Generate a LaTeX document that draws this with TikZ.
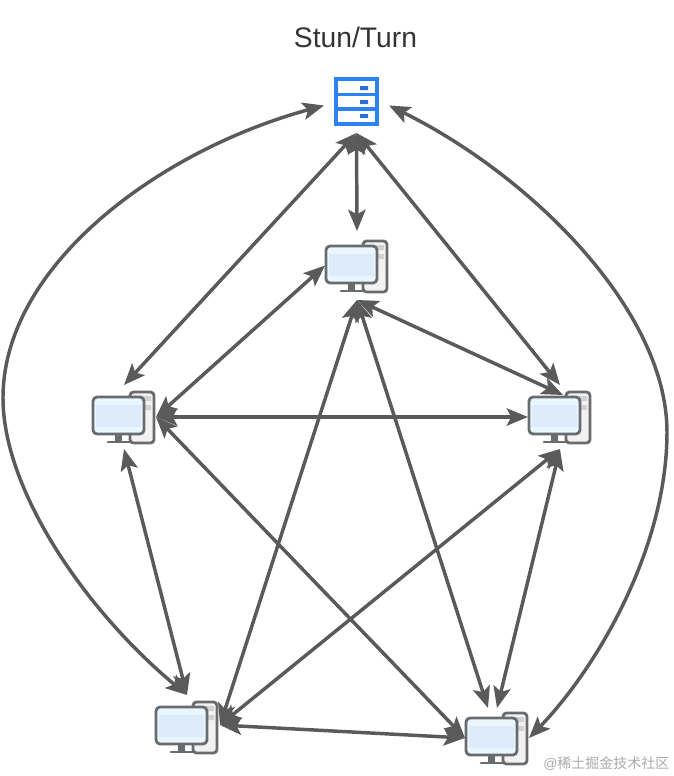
\documentclass[tikz,border=0pt]{standalone}
\usepackage{fontspec}
\setmainfont{Liberation Sans}
\newfontfamily\cjk{Noto Sans CJK SC}
\usetikzlibrary{arrows.meta}
\definecolor{ink}{HTML}{333333}
\definecolor{pfeil}{HTML}{5A5A5A}
\definecolor{rahmen}{HTML}{686C6E}
\definecolor{schirm}{HTML}{EAF6FD}
\definecolor{schirmb}{HTML}{DDEBFB}
\definecolor{turm}{HTML}{F2F2F2}
\definecolor{schlitz}{HTML}{D2D2D2}
\definecolor{blau}{HTML}{2B82F2}
\definecolor{blaub}{HTML}{2A6FD6}
\definecolor{zeichen}{HTML}{ABABAB}
\tikzset{doppel/.style={pfeil,line width=2.6pt,
    {Stealth[length=16pt,width=13pt,inset=3.5pt]}-{Stealth[length=16pt,width=13pt,inset=3.5pt]}},
  box/.style 2 args={inner sep=0,outer sep=0,minimum width=#1*0.75pt,minimum height=#2*0.75pt},
  teil/.style={rahmen,line width=2.1pt,line join=round}}
% monitor top left corner at #1,#2
\newcommand{\rechner}[2]{\begin{scope}[shift={(#1,#2)}]
\draw[teil,fill=turm,rounded corners=2.6pt] (37,-5) rectangle (61,46);
\fill[schlitz] (48,-1) rectangle (58,4) (48,8) rectangle (58,13);
\fill[rahmen] (22,37) rectangle (29,44);
\draw[teil,line cap=round] (15,45) -- (37,45);
\draw[teil,fill=schirm,rounded corners=3pt] (0,0) rectangle (51,37);
\fill[schirmb] (3,8) rectangle (48,30);
\end{scope}}
\begin{document}
\begin{tikzpicture}[x=0.75pt,y=-0.75pt]
\useasboundingbox (0,0) rectangle (674,776);
\node[inner sep=0,text=ink,font=\fontsize{21.2}{25}\selectfont] (titel) at (355.5,37) {Stun/Turn};
\draw[blau,line width=2.3pt] (336,79) rectangle (377,124) (336,94.5) -- (377,94.5) (336,109) -- (377,109);
\fill[blaub] (360,86) rectangle (368,90) (360,100) rectangle (368,104) (360,114) rectangle (368,118);
\rechner{326}{246}
\rechner{93}{397}
\rechner{529}{397}
\rechner{156}{707}
\rechner{466}{718}
\node[box={65}{55}] (server) at (356.5,105.5) {};
\node[box={64}{69}] (pcTop) at (357,265.5) {};
\node[box={64}{64}] (pcLeft) at (124,417) {};
\node[box={64}{64}] (pcRight) at (560,417) {};
\node[box={66}{60}] (pcBL) at (187,725) {};
\node[box={64}{60}] (pcBR) at (497,738) {};
\coordinate (pcRightIn) at (563,395);
\coordinate (pcBRa) at (488,708);
\draw[doppel] (server.west) .. controls (160,150) and (3,265) .. (3,398) .. controls (3,490) and (85,610) .. (pcBL.north);
\draw[doppel] (server.east) .. controls (530,175) and (667,310) .. (667,432) .. controls (667,550) and (595,670) .. (pcBR.east);
\draw[doppel] (server.south) -- (pcLeft.north);
\draw[doppel] (server.south) -- (pcTop.north);
\draw[doppel] (server.south) -- (pcRight.north);
\draw[doppel] (pcTop.west) -- (pcLeft.east);
\draw[doppel] (pcTop.south) -- (pcRightIn);
\draw[doppel] (pcTop.south) -- (pcBL.east);
\draw[doppel] (pcTop.south) -- (pcBRa);
\draw[doppel] (pcLeft.east) -- (pcRight.west);
\draw[doppel] (pcLeft.south) -- (pcBL.north);
\draw[doppel] (pcLeft.east) -- (pcBR.west);
\draw[doppel] (pcRight.south) -- (pcBL.east);
\draw[doppel] (pcRight.south) -- (pcBR.north);
\draw[doppel] (pcBL.east) -- (pcBR.west);
\node[anchor=west,inner sep=0,text=zeichen,font=\fontsize{10.5}{12}\selectfont] (marke) at (543,763.5) {@{\cjk 稀土掘金技术社区}};
\end{tikzpicture}
\end{document}
